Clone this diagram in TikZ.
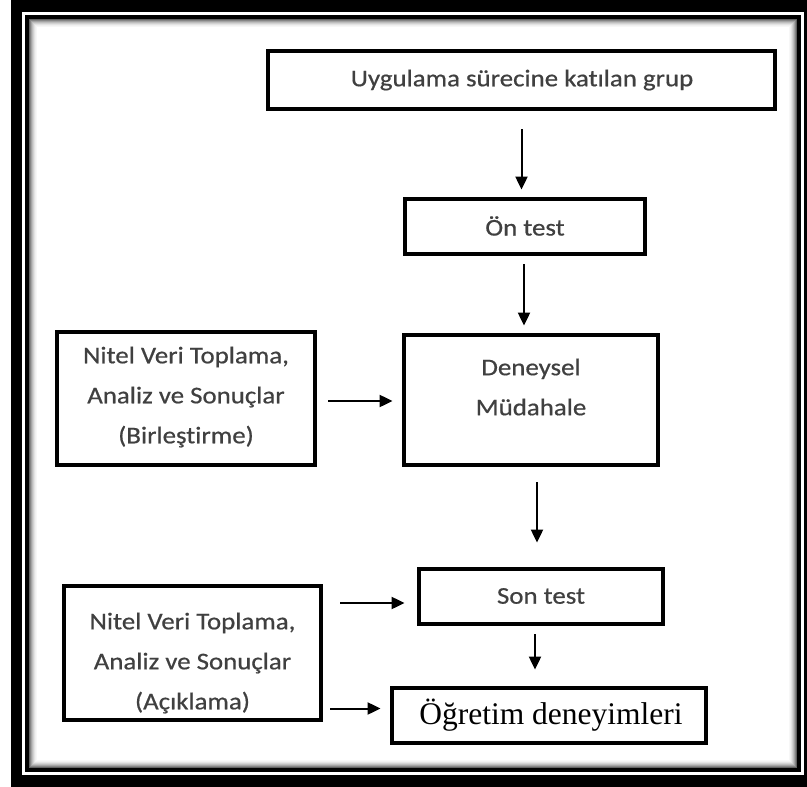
\documentclass[tikz,border=0pt]{standalone}
\usepackage{fontspec}
\newfontfamily\calfont[FakeStretch=1.12,FakeBold=0.6,Ligatures=NoCommon]{Carlito}
\newfontfamily\timesfont{Liberation Serif}
\usetikzlibrary{arrows.meta,calc}

\tikzset{
  box/.style={draw=black, line width=4.8pt, fill=white, inner sep=0pt},
  txt/.style={align=center, text=black!75, font=\calfont\fontsize{24}{40}\selectfont, inner sep=0pt},
  arr/.style={line width=2pt, -{Triangle[length=13pt,width=12pt]}}
}

\begin{document}
\begin{tikzpicture}[x=1pt,y=-1pt]
\useasboundingbox (0,0) rectangle (807,787);
% outer frame
\fill[white] (0,0) rectangle (807,787);
\fill[black] (11,0) rectangle (807,787);
\fill[white] (22,12) rectangle (804,775);
\draw[line width=4pt] (27,17) rectangle (799,770);
% soft inner shadow along the frame
\foreach \i/\c in {0/62,1/48,2/36,3/26,4/18,5/11,6/6,7/3}{
  \draw[black!\c, line width=1pt] (29.5+\i,19.5+\i) rectangle (796.5-\i,767.5-\i);
}

% boxes
\node[box, minimum width=507, minimum height=58] (n1) at (521.5,80) {};
\node[txt] (t1) at (522,80) {Uygulama sürecine katılan grup};

\node[box, minimum width=240, minimum height=55] (n2) at (525,226.5) {};
\node[txt] (t2) at (525,226) {Ön test};

\node[box, minimum width=254, minimum height=130] (n3) at (531,400) {};
\node[txt] (t3) at (531,387) {Deneysel\\Müdahale};

\node[box, minimum width=258, minimum height=133] (n4) at (186,398.5) {};
\node[txt] (t4) at (186,397) {Nitel Veri Toplama,\\Analiz ve Sonuçlar\\(Birleştirme)};

\node[box, minimum width=244, minimum height=55] (n5) at (541,596.5) {};
\node[txt] (t5) at (541,596) {Son test};

\node[box, minimum width=314, minimum height=55] (n6) at (549,715.5) {};
\node[inner sep=0pt, font=\timesfont\fontsize{31.5}{36}\selectfont] (t6) at (551,715) {Öğretim deneyimleri};

\node[box, minimum width=257, minimum height=134] (n7) at (192.5,653) {};
\node[txt] (t7) at (192.5,663) {Nitel Veri Toplama,\\Analiz ve Sonuçlar\\(Açıklama)};

% connectors
\draw[arr] ($(n1.south)+(0,18)$) -- ($(n1.south |- n2.north)+(0,-7)$);
\draw[arr] ($(n2.south)+(-1,8)$) -- ($(n2.south |- n3.north)+(-1,-7)$);
\draw[arr] ($(n4.east)+(11,2.5)$) -- ($(n4.east -| n3.west)+(-9,2.5)$);
\draw[arr] ($(n3.south)+(6,15)$) -- ($(n3.south |- n5.north)+(6,-24)$);
\draw[arr] ($(n7.east |- n5.west)+(17,6.5)$) -- ($(n5.west)+(-12,6.5)$);
\draw[arr] ($(n7.east |- n6.west)+(7,-7)$) -- ($(n6.west)+(-9,-7)$);
\draw[arr] ($(n5.south)+(-6,8)$) -- ($(n5.south |- n6.north)+(-6,-16)$);
\end{tikzpicture}
\end{document}
